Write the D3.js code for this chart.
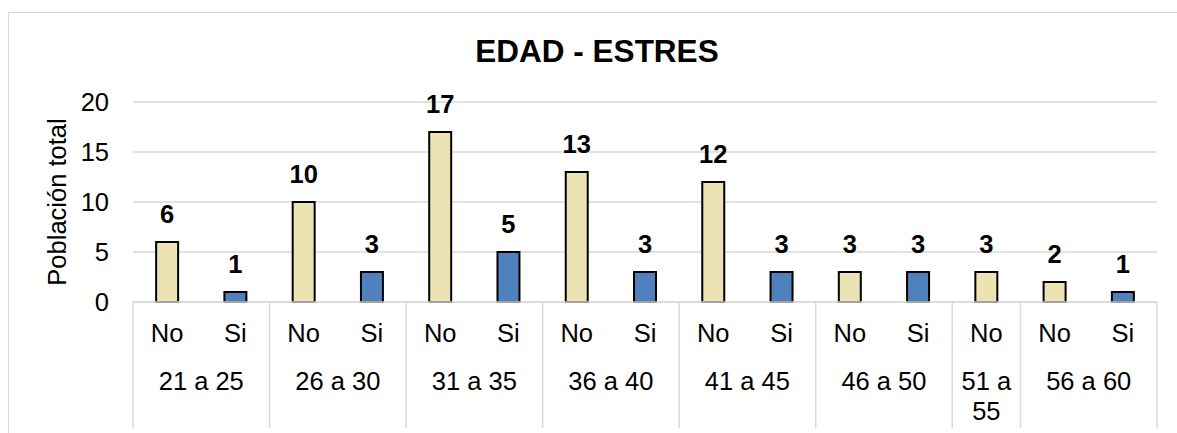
<!DOCTYPE html>
<html>
<head>
<meta charset="utf-8">
<script src="https://cdn.jsdelivr.net/npm/d3@7"></script>
<style>
  body { margin: 0; background: #fff; }
  text { font-family: "Liberation Sans", Arial, sans-serif; fill: #000; }
</style>
</head>
<body>
<script>
var ageGroups = ["21 a 25", "26 a 30", "31 a 35", "36 a 40", "41 a 45", "46 a 50", "51 a 55", "56 a 60"];
var answers = [["No", "Si"], ["No", "Si"], ["No", "Si"], ["No", "Si"], ["No", "Si"], ["No", "Si"], ["No"], ["No", "Si"]];
var counts = [[6, 1], [10, 3], [17, 5], [13, 3], [12, 3], [3, 3], [3], [2, 1]];
var yTicks = [0, 5, 10, 15, 20];

var width = 1177, height = 433,
    margin = {top: 102, right: 20, bottom: 131, left: 133},
    fontSize = 25.5;

var color = d3.scaleOrdinal().domain(["No", "Si"]).range(["#ECE2B4", "#4F81BD"]);

// flat list of bars, one per age group / answer
var rows = [];
ageGroups.forEach(function(g, i) {
  answers[i].forEach(function(a, j) {
    rows.push({group: g, answer: a, value: counts[i][j], key: g + "|" + a});
  });
});

var svg = d3.select("body").append("svg")
    .attr("width", width)
    .attr("height", height);

// chart frame (right and bottom edges fall outside the picture)
svg.append("rect")
    .attr("x", 8.5).attr("y", 12.5)
    .attr("width", width).attr("height", height)
    .attr("fill", "none")
    .attr("stroke", "#d9d9d9")
    .attr("stroke-width", 1.2);

var x = d3.scaleBand()
    .domain(rows.map((d) => d.key))
    .range([margin.left, width - margin.right])
    .paddingInner(0.678)
    .paddingOuter(0.339);

var y = d3.scaleLinear()
    .domain([0, 20])
    .range([height - margin.bottom, margin.top]);

// gridlines
svg.append("g")
    .selectAll("line")
    .data(yTicks)
  .enter().append("line")
    .attr("x1", margin.left)
    .attr("x2", width - margin.right)
    .attr("y1", (d) => y(d))
    .attr("y2", (d) => y(d))
    .attr("stroke", "#d9d9d9")
    .attr("stroke-width", 1.5);

// y axis
var yAxis = svg.append("g")
    .attr("transform", "translate(" + (margin.left - 24) + ",0)")
    .call(d3.axisLeft(y).tickValues(yTicks).tickSize(0).tickPadding(0));
yAxis.select(".domain").remove();
yAxis.selectAll("text")
    .attr("font-size", fontSize)
    .style("font-family", '"Liberation Sans", Arial, sans-serif')
    .attr("fill", "#000");

svg.append("text")
    .attr("transform", "translate(66,202) rotate(-90)")
    .attr("text-anchor", "middle")
    .attr("font-size", fontSize)
    .text("Población total");

// bars
svg.append("g")
    .selectAll("rect")
    .data(rows)
  .enter().append("rect")
    .attr("x", (d) => x(d.key))
    .attr("y", (d) => y(d.value))
    .attr("width", x.bandwidth())
    .attr("height", (d) => y(0) - y(d.value))
    .attr("fill", (d) => color(d.answer))
    .attr("stroke", "#000")
    .attr("stroke-width", 2);

// value labels
svg.append("g")
    .selectAll("text")
    .data(rows)
  .enter().append("text")
    .attr("x", (d) => x(d.key) + x.bandwidth() / 2)
    .attr("y", (d) => y(d.value) - 19)
    .attr("text-anchor", "middle")
    .attr("font-size", fontSize)
    .attr("font-weight", "bold")
    .text((d) => d.value);

// category axis: answers
var y0 = y(0);
svg.append("line")
    .attr("x1", margin.left).attr("x2", width - margin.right)
    .attr("y1", y0).attr("y2", y0)
    .attr("stroke", "#d9d9d9").attr("stroke-width", 1.5);

svg.append("g")
    .selectAll("text")
    .data(rows)
  .enter().append("text")
    .attr("x", (d) => x(d.key) + x.bandwidth() / 2)
    .attr("y", y0 + 40)
    .attr("text-anchor", "middle")
    .attr("font-size", fontSize)
    .text((d) => d.answer);

// category axis: age groups
var groups = ageGroups.map(function(g, i) {
  var first = g + "|" + answers[i][0],
      last = g + "|" + answers[i][answers[i].length - 1];
  return {name: g, x0: x(first) - x.step() * x.paddingInner() / 2,
          x1: x(last) + x.bandwidth() + x.step() * x.paddingInner() / 2};
});

var bounds = [groups[0].x0].concat(groups.map((d) => d.x1));
svg.append("g")
    .selectAll("line")
    .data(bounds)
  .enter().append("line")
    .attr("x1", (d) => d).attr("x2", (d) => d)
    .attr("y1", y0).attr("y2", 428)
    .attr("stroke", "#d9d9d9")
    .attr("stroke-width", 1.5);

var groupText = svg.append("g")
    .selectAll("text")
    .data(groups)
  .enter().append("text")
    .attr("x", (d) => (d.x0 + d.x1) / 2)
    .attr("y", y0 + 88)
    .attr("text-anchor", "middle")
    .attr("font-size", fontSize)
    .text((d) => d.name);

// wrap labels that do not fit in their group
groupText.each(function(d) {
  var t = d3.select(this);
  if (this.getComputedTextLength() > d.x1 - d.x0 - 6) {
    var words = d.name.split(" ");
    var cx = (d.x0 + d.x1) / 2;
    t.text(null);
    t.append("tspan").attr("x", cx).text(words.slice(0, -1).join(" "));
    t.append("tspan").attr("x", cx).attr("dy", 30).text(words[words.length - 1]);
  }
});

// title
svg.append("text")
    .attr("x", 597)
    .attr("y", 62)
    .attr("text-anchor", "middle")
    .attr("font-size", 31.5)
    .attr("font-weight", "bold")
    .text("EDAD - ESTRES");
</script>
</body>
</html>
